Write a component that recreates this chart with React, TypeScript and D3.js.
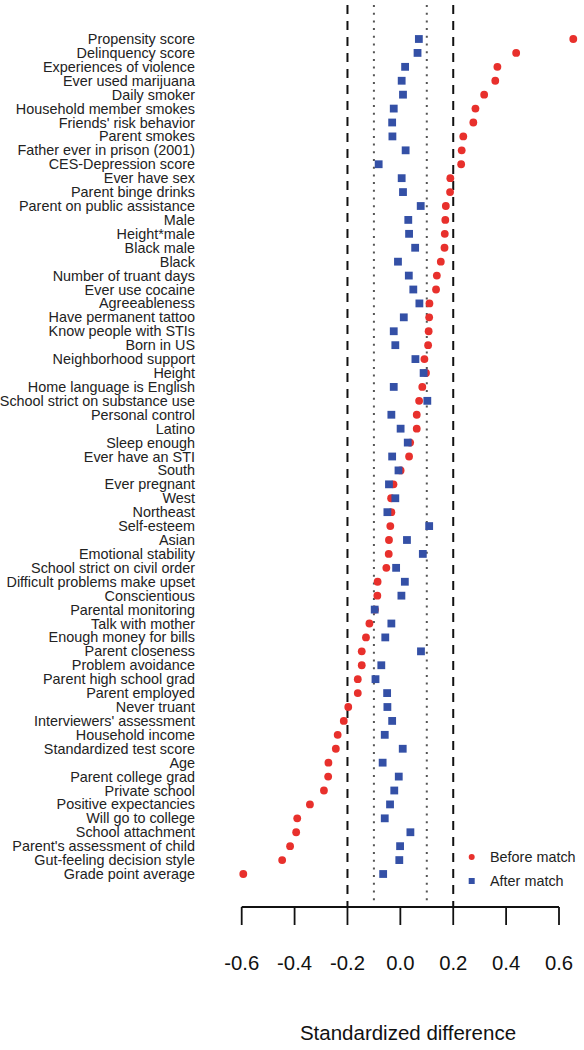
import React from "react";
import * as d3 from "d3";

const labels: string[] = [
  "Propensity score", "Delinquency score", "Experiences of violence", "Ever used marijuana",
  "Daily smoker", "Household member smokes", "Friends' risk behavior", "Parent smokes",
  "Father ever in prison (2001)", "CES-Depression score", "Ever have sex", "Parent binge drinks",
  "Parent on public assistance", "Male", "Height*male", "Black male", "Black",
  "Number of truant days", "Ever use cocaine", "Agreeableness", "Have permanent tattoo",
  "Know people with STIs", "Born in US", "Neighborhood support", "Height",
  "Home language is English", "School strict on substance use", "Personal control", "Latino",
  "Sleep enough", "Ever have an STI", "South", "Ever pregnant", "West", "Northeast",
  "Self-esteem", "Asian", "Emotional stability", "School strict on civil order",
  "Difficult problems make upset", "Conscientious", "Parental monitoring", "Talk with mother",
  "Enough money for bills", "Parent closeness", "Problem avoidance", "Parent high school grad",
  "Parent employed", "Never truant", "Interviewers' assessment", "Household income",
  "Standardized test score", "Age", "Parent college grad", "Private school",
  "Positive expectancies", "Will go to college", "School attachment",
  "Parent's assessment of child", "Gut-feeling decision style", "Grade point average",
];

const beforeMatch: number[] = [
  0.654, 0.438, 0.367, 0.359, 0.317, 0.284, 0.276, 0.238, 0.232, 0.230,
  0.189, 0.188, 0.172, 0.170, 0.168, 0.167, 0.153, 0.138, 0.135, 0.110,
  0.109, 0.107, 0.105, 0.091, 0.097, 0.083, 0.071, 0.062, 0.062, 0.037,
  0.033, 0.001, -0.026, -0.035, -0.034, -0.038, -0.043, -0.044, -0.053, -0.086,
  -0.087, -0.096, -0.117, -0.130, -0.146, -0.146, -0.161, -0.161, -0.197, -0.214,
  -0.237, -0.244, -0.272, -0.273, -0.289, -0.342, -0.390, -0.394, -0.417, -0.447,
  -0.594,
];

const afterMatch: number[] = [
  0.070, 0.065, 0.018, 0.005, 0.010, -0.025, -0.031, -0.030, 0.020, -0.082,
  0.005, 0.010, 0.077, 0.030, 0.033, 0.056, -0.009, 0.032, 0.049, 0.072,
  0.013, -0.025, -0.019, 0.057, 0.088, -0.025, 0.102, -0.034, 0.001, 0.028,
  -0.031, -0.007, -0.043, -0.019, -0.049, 0.109, 0.025, 0.085, -0.016, 0.017,
  0.004, -0.097, -0.034, -0.057, 0.078, -0.072, -0.094, -0.050, -0.049, -0.031,
  -0.059, 0.009, -0.067, -0.006, -0.023, -0.039, -0.059, 0.038, -0.001, -0.004,
  -0.065,
];

const xTicks: number[] = [-0.6, -0.4, -0.2, 0.0, 0.2, 0.4, 0.6];
const xTickLabels: string[] = ["-0.6", "-0.4", "-0.2", "0.0", "0.2", "0.4", "0.6"];
const dashedRefs: number[] = [-0.2, 0.2];
const dottedRefs: number[] = [-0.1, 0.1];
const legendItems: string[] = ["Before match", "After match"];

const RED = "#e8302c";
const BLUE = "#3450a6";
const FONT = "'Liberation Sans', Arial, Helvetica, sans-serif";

export default function App() {
  const W = 584;
  const H = 1050;
  const x = d3.scaleLinear().domain([-0.6, 0.6]).range([241.7, 559]);
  const y = d3
    .scalePoint<string>()
    .domain(labels)
    .range([39, 874]);
  const axisY = 907;
  const lineTop = 5;

  return (
    <svg
      width={W}
      height={H}
      style={{ position: "absolute", left: 0, top: 0, background: "#fff" }}
      fontFamily={FONT}
    >
      {dashedRefs.map((v) => (
        <line
          key={"d" + v}
          x1={x(v)}
          x2={x(v)}
          y1={lineTop}
          y2={axisY}
          stroke="#111"
          strokeWidth={2}
          strokeDasharray="9,7"
        />
      ))}
      {dottedRefs.map((v) => (
        <line
          key={"o" + v}
          x1={x(v)}
          x2={x(v)}
          y1={lineTop}
          y2={axisY}
          stroke="#555"
          strokeWidth={2}
          strokeDasharray="2,5.7"
        />
      ))}

      {labels.map((l) => (
        <text
          key={l}
          x={195}
          y={y(l)!}
          textAnchor="end"
          dominantBaseline="central"
          fontSize={14.4}
          fill="#222"
        >
          {l}
        </text>
      ))}

      {beforeMatch.map((v, i) => (
        <circle key={"b" + i} cx={x(v)} cy={y(labels[i])!} r={3.9} fill={RED} />
      ))}
      {afterMatch.map((v, i) => (
        <rect
          key={"a" + i}
          x={x(v) - 3.9}
          y={y(labels[i])! - 3.9}
          width={7.8}
          height={7.8}
          fill={BLUE}
        />
      ))}

      <line x1={x(-0.6)} x2={x(0.6)} y1={axisY} y2={axisY} stroke="#111" strokeWidth={1.8} />
      {xTicks.map((t, i) => (
        <g key={"t" + t}>
          <line x1={x(t)} x2={x(t)} y1={axisY} y2={925} stroke="#111" strokeWidth={1.8} />
          <text x={x(t)} y={970} textAnchor="middle" fontSize={20.3} fill="#111">
            {xTickLabels[i]}
          </text>
        </g>
      ))}
      <text x={408} y={1040} textAnchor="middle" fontSize={20.5} fill="#111">
        Standardized difference
      </text>

      <circle cx={471.7} cy={857} r={3} fill={RED} />
      <rect x={468.7} y={878} width={6} height={6} fill={BLUE} />
      {legendItems.map((l, i) => (
        <text
          key={l}
          x={490}
          y={857 + i * 24}
          dominantBaseline="central"
          fontSize={14.4}
          fill="#222"
        >
          {l}
        </text>
      ))}
    </svg>
  );
}
